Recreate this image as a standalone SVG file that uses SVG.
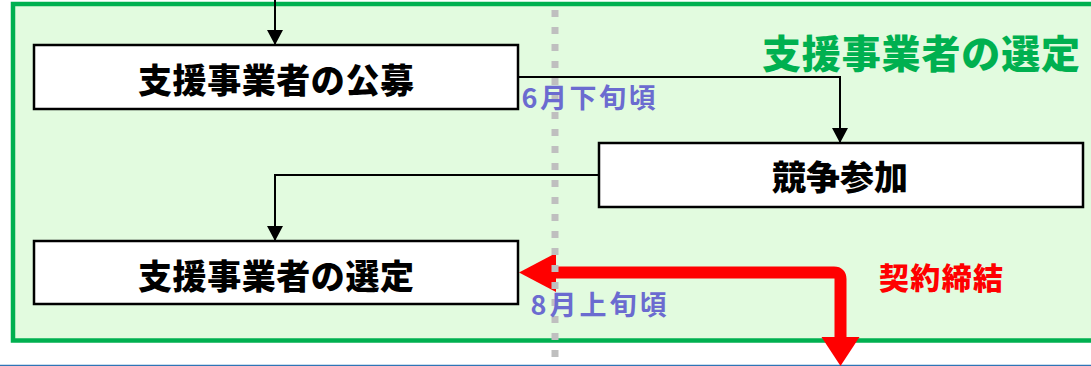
<svg xmlns="http://www.w3.org/2000/svg" width="1091" height="366" viewBox="0 0 1091 366">
<style>
.box{fill:#fff;stroke:#000;stroke-width:2.5}
.lbl{font-family:"Noto Sans CJK JP","Noto Sans",sans-serif;font-weight:900;text-anchor:middle}
.blk{fill:#000;font-size:34px}
.date{fill:#6B6BD0;font-size:27px;font-weight:700}
.conn{fill:none;stroke:#000;stroke-width:2}
</style>
<defs>
<marker id="ah" markerUnits="userSpaceOnUse" markerWidth="16" markerHeight="16" refX="15" refY="8" orient="auto">
<path d="M0,0 L15,8 L0,16 Z" fill="#000"/>
</marker>
</defs>
<rect x="0" y="0" width="1091" height="366" fill="#fff"/>
<g id="frame">
<rect x="13" y="4" width="1100" height="336.5" fill="#E2FBDF" stroke="#00B050" stroke-width="4.5"/>
<text class="lbl" x="921" y="67.5" font-size="39" fill="#00B050" textLength="318" lengthAdjust="spacing">支援事業者の選定</text>
</g>
<line x1="0" y1="365.5" x2="1091" y2="365.5" stroke="#2E75B6" stroke-width="1.5"/>
<g id="connectors">
<path class="conn" d="M275,0 V45" marker-end="url(#ah)"/>
<path class="conn" d="M518,77 H840 V143" marker-end="url(#ah)"/>
<path class="conn" d="M599,175 H275 V241" marker-end="url(#ah)"/>
<g id="contract">
<path d="M550,272.5 H834 Q840.5,272.5 840.5,279 V340" fill="none" stroke="#FF0000" stroke-width="12"/>
<polygon points="519,272.5 556,253 556,292" fill="#FF0000"/>
<polygon points="821.5,337 859.5,337 840.5,366" fill="#FF0000"/>
</g>
</g>
<line id="divider" x1="555" y1="0" x2="555" y2="366" stroke="#BFBFBF" stroke-width="7" stroke-dasharray="7 10" stroke-dashoffset="-10"/>
<g id="node-koubo">
<rect class="box" x="34" y="45" width="484" height="64"/>
<text class="lbl blk" x="276" y="92.5" textLength="276" lengthAdjust="spacing">支援事業者の公募</text>
</g>
<g id="node-kyousou">
<rect class="box" x="599" y="143" width="484" height="64"/>
<text class="lbl blk" x="840" y="189.5" textLength="136" lengthAdjust="spacing">競争参加</text>
</g>
<g id="node-sentei">
<rect class="box" x="34" y="241" width="484" height="63"/>
<text class="lbl blk" x="276" y="288.5" textLength="276" lengthAdjust="spacing">支援事業者の選定</text>
</g>
<text class="lbl date" x="588.5" y="107.5" textLength="134" lengthAdjust="spacing">6月下旬頃</text>
<text class="lbl date" x="598.5" y="315" textLength="136" lengthAdjust="spacing">8月上旬頃</text>
<text class="lbl" x="941" y="289" font-size="30" fill="#FF0000" textLength="124" lengthAdjust="spacing">契約締結</text>
</svg>
